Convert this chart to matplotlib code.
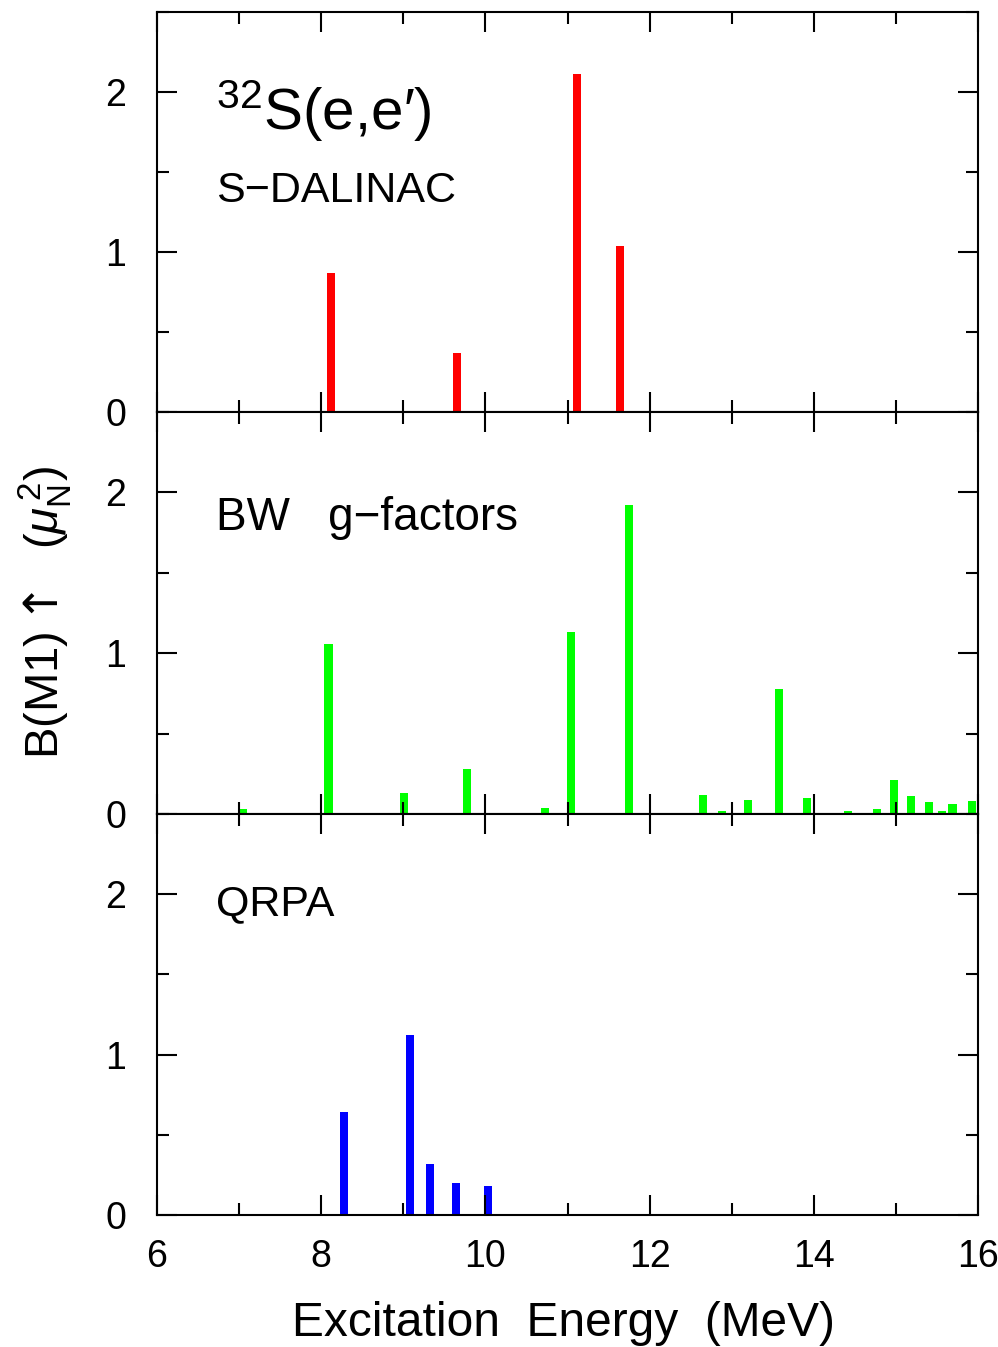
import matplotlib
matplotlib.use('Agg')
import matplotlib.pyplot as plt
from matplotlib.ticker import MultipleLocator

# B(M1) strengths of 32S
exp_energy = [8.12, 9.65, 11.12, 11.64]
exp_bm1 = [0.87, 0.37, 2.11, 1.04]

bw_energy = [7.05, 8.09, 9.01, 9.78, 10.73, 11.04, 11.75, 12.65, 12.88, 13.20,
             13.58, 13.92, 14.42, 14.60, 14.77, 14.98, 15.18, 15.40, 15.56, 15.69, 15.93]
bw_bm1 = [0.03, 1.06, 0.13, 0.28, 0.04, 1.13, 1.92, 0.12, 0.02, 0.09,
          0.78, 0.10, 0.02, 0.005, 0.03, 0.21, 0.11, 0.075, 0.02, 0.06, 0.08]

qrpa_energy = [8.28, 9.08, 9.33, 9.64, 10.03]
qrpa_bm1 = [0.645, 1.12, 0.32, 0.20, 0.18]

panels = [
    (exp_energy, exp_bm1, '#ff0000'),
    (bw_energy, bw_bm1, '#00ff00'),
    (qrpa_energy, qrpa_bm1, '#0000ff'),
]

plt.rcParams['font.family'] = ['Liberation Sans', 'DejaVu Sans']
plt.rcParams['mathtext.fontset'] = 'custom'
plt.rcParams['mathtext.rm'] = 'Liberation Sans'
plt.rcParams['mathtext.it'] = 'Liberation Sans:italic'
plt.rcParams['mathtext.sf'] = 'Liberation Sans'
# arrow glyph taken from DejaVu (Liberation's one is tiny)
plt.rcParams['mathtext.bf'] = 'DejaVu Sans'

W, H = 998, 1347
fig = plt.figure(figsize=(W / 100, H / 100), dpi=100)

left, right = 157, 978
edges = [12, 412, 814, 1215]
axes = []
for i, (xs, ys, col) in enumerate(panels):
    top, bot = edges[i], edges[i + 1]
    ax = fig.add_axes([left / W, 1 - bot / H, (right - left) / W, (bot - top) / H])
    ax.bar(xs, ys, width=0.1, color=col, linewidth=0)
    ax.set_xlim(6, 16)
    ax.set_ylim(0, 2.5)
    ax.xaxis.set_major_locator(MultipleLocator(2))
    ax.xaxis.set_minor_locator(MultipleLocator(1))
    ax.yaxis.set_major_locator(MultipleLocator(1))
    ax.yaxis.set_minor_locator(MultipleLocator(0.5))
    ax.tick_params(which='both', direction='in', top=True, right=True, width=1.5)
    ax.tick_params(which='major', length=14.5)
    ax.tick_params(which='minor', length=8.5)
    ax.tick_params(axis='y', labelsize=27, pad=22)
    ax.tick_params(axis='x', labelsize=27, pad=17)
    for s in ax.spines.values():
        s.set_linewidth(1.5)
    ax.set_yticks([0, 1, 2])
    ax.set_yticklabels(['0', '1', '2'])
    if i < 2:
        ax.tick_params(axis='x', labelbottom=False)
    axes.append(ax)

axes[0].text(6.72, 1.88, '$^{32}$S(e,e\u2032)', fontsize=42, va='center', ha='left')
axes[0].text(6.72, 1.38, 'S\u2212DALINAC', fontsize=31, va='center', ha='left')
axes[1].text(6.72, 1.84, 'BW   g\u2212factors', fontsize=33, va='center', ha='left')
axes[2].text(6.72, 1.94, 'QRPA', fontsize=31, va='center', ha='left')

fig.text(563 / W, 1 - 1323 / H, 'Excitation  Energy  (MeV)', fontsize=34.5,
         ha='center', va='center')
fig.text(45 / W, 1 - 613 / H, r'B(M1)$\mathbf{\uparrow}$  ($\mu_{\rm N}^{\,2}$)', fontsize=34,
         ha='center', va='center', rotation=90)

fig.savefig('out.png', dpi=100)
